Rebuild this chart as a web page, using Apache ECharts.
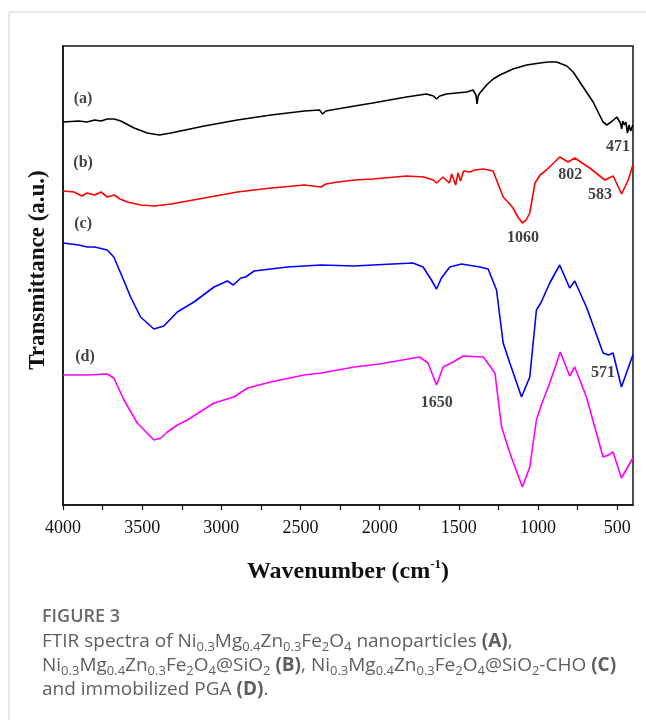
<!DOCTYPE html>
<html>
<head>
<meta charset="utf-8">
<script src="https://cdn.jsdelivr.net/npm/echarts@6/dist/echarts.min.js"></script>
<style>
  body { margin: 0; background: #fff; }
  #main { width: 646px; height: 720px; }
</style>
</head>
<body>
<div id="main"></div>
<script>
// wavenumber (cm-1), transmittance (a.u., offset traces)
let specA = [[4000,383],[3900,384],[3848,383],[3800,385],[3760,384],[3720,386],[3677,386],[3635,384],[3551,377],[3468,372],[3392,370],[3318,372],[3108,379],[2899,385],[2686,390],[2475,394],[2380,395],[2360,391],[2340,394],[2306,395],[2158,399],[2044,402],[1831,408],[1705,411],[1660,409],[1641,406],[1620,409],[1578,411],[1515,412],[1450,413],[1410,415],[1392,410],[1385,401],[1378,409],[1367,412],[1325,420],[1283,426],[1241,430],[1158,436],[1072,440],[987,442],[937,443],[882,443],[818,439],[778,433],[715,418],[652,403],[589,383],[565,380],[530,384],[502,388],[490,386],[480,382],[471,376],[465,384],[455,380],[445,383],[435,372],[425,380],[415,374],[401,380]];
let specB = [[4000,314],[3930,313],[3880,309],[3848,312],[3800,310],[3760,313],[3720,308],[3677,310],[3640,306],[3593,303],[3508,300],[3424,299],[3318,301],[3108,307],[2899,313],[2686,317],[2475,320],[2370,318],[2340,321],[2264,323],[2158,325],[2044,326],[1831,329],[1720,328],[1662,325],[1640,322],[1600,328],[1560,322],[1545,331],[1520,320],[1505,332],[1490,324],[1470,334],[1430,333],[1400,335],[1346,336],[1284,334],[1220,308],[1190,303],[1158,297],[1127,288],[1099,282],[1075,285],[1052,292],[1019,322],[987,330],[947,335],[863,348],[810,343],[768,347],[673,337],[578,325],[525,329],[472,311],[430,325],[401,340]];
let specC = [[4000,262],[3900,260],[3848,258],[3800,258],[3721,255],[3679,248],[3636,232],[3573,208],[3510,188],[3426,176],[3363,179],[3278,193],[3173,203],[3046,218],[2962,224],[2924,220],[2877,227],[2846,228],[2793,234],[2582,238],[2371,240],[2160,239],[2044,240],[1790,242],[1726,238],[1673,225],[1641,216],[1610,227],[1557,238],[1483,241],[1367,238],[1315,236],[1262,215],[1220,162],[1178,142],[1104,108],[1052,128],[1010,195],[979,203],[926,222],[863,240],[800,217],[768,224],[694,198],[589,152],[555,150],[526,152],[473,118],[401,150]];
let specD = [[4000,130],[3850,130],[3721,131],[3679,127],[3615,105],[3531,82],[3426,65],[3382,67],[3341,73],[3278,80],[3215,85],[3046,102],[2920,108],[2835,117],[2688,123],[2477,130],[2371,132],[2160,138],[2002,141],[1748,148],[1695,142],[1641,120],[1599,138],[1536,143],[1473,149],[1346,148],[1272,132],[1230,78],[1178,52],[1099,18],[1052,38],[1010,85],[979,100],[926,122],[859,153],[800,129],[768,138],[694,108],[589,48],[555,50],[526,53],[473,27],[401,47]];

let majorTicks = [4000,3500,3000,2500,2000,1500,1000,500];
let allTicks = [4000,3750,3500,3250,3000,2750,2500,2250,2000,1750,1500,1250,1000,750,500];

// peak / trace labels: [wavenumber, value, text]
let notes = [[3873,406,'(a)'],[3873,342,'(b)'],[3873,281,'(c)'],[3861,148,'(d)'],
             [494,358,'471'],[797,330,'802'],[608,310,'583'],[1095,267,'1060'],
             [589,132,'571'],[1639,102,'1650']];

let serif = '"Liberation Serif", "Times New Roman", serif';
let sans = '"Open Sans", "Noto Sans", sans-serif';

function line(name, data, color) {
    return {
        name: name, type: 'line', data: data, showSymbol: false, smooth: false,
        lineStyle: {color: color, width: 1.6}, itemStyle: {color: color},
        silent: true, z: 3
    };
}

let capRich = {
    n: {fontSize: 19, lineHeight: 24, fill: '#5f5f5f', fontFamily: sans},
    s: {fontSize: 13, lineHeight: 13, fill: '#5f5f5f', fontFamily: sans, verticalAlign: 'bottom'},
    b: {fontSize: 19, lineHeight: 24, fill: '#5f5f5f', fontFamily: sans, fontWeight: 'bold'}
};
let ni = '{n|Ni}{s|0.3}{n|Mg}{s|0.4}{n|Zn}{s|0.3}{n|Fe}{s|2}{n|O}{s|4}';
let captionText = '{n|FTIR spectra of }' + ni + '{n| nanoparticles }{b|(A)}{n|,}\n' +
    ni + '{n|@SiO}{s|2}{n| }{b|(B)}{n|, }' + ni + '{n|@SiO}{s|2}{n|-CHO }{b|(C)}\n' +
    '{n|and immobilized PGA }{b|(D)}{n|.}';

let myChart = echarts.init(document.getElementById('main'));
let option = {
    backgroundColor: '#fff',
    animation: false,
    grid: {left: 63, right: 13, top: 46, bottom: 215, show: true, borderColor: '#111', borderWidth: 1.5},
    xAxis: {
        type: 'value', inverse: true, min: 400, max: 4000,
        axisLine: {show: true, lineStyle: {color: '#111', width: 1.5}},
        axisTick: {show: true, customValues: allTicks, length: 5, lineStyle: {color: '#111', width: 1.2}},
        axisLabel: {
            customValues: majorTicks, color: '#111', fontFamily: serif, fontSize: 18, margin: 14,
            formatter: function (v) { return String(v); }
        },
        splitLine: {show: false}
    },
    yAxis: {
        type: 'value', min: 0, max: 459,
        axisLine: {show: true, lineStyle: {color: '#111', width: 1.5}},
        axisTick: {show: false}, axisLabel: {show: false}, splitLine: {show: false}
    },
    series: [
        line('(a)', specA, '#000000'),
        line('(b)', specB, '#ff0000'),
        line('(c)', specC, '#0000ff'),
        line('(d)', specD, '#ff00ff'),
        {
            type: 'scatter', data: notes, symbolSize: 0, silent: true, z: 5,
            label: {
                show: true, position: 'inside', color: '#111',
                fontFamily: serif, fontWeight: 'bold', fontSize: 16,
                formatter: function (p) { return p.data[2]; }
            }
        }
    ],
    graphic: [
        {type: 'line', shape: {x1: 9, y1: 12, x2: 646, y2: 12}, style: {stroke: '#cfcfcf', lineWidth: 1}},
        {type: 'line', shape: {x1: 9, y1: 12, x2: 9, y2: 720}, style: {stroke: '#cfcfcf', lineWidth: 1}},
        {
            type: 'text', x: 348, y: 572,
            style: {
                text: '{t|Wavenumber (cm}{u|-1}{t|)}',
                align: 'center', verticalAlign: 'middle',
                rich: {
                    t: {fontFamily: serif, fontWeight: 'bold', fontSize: 24, lineHeight: 28, fill: '#111'},
                    u: {fontFamily: serif, fontWeight: 'bold', fontSize: 13, lineHeight: 28, fill: '#111', verticalAlign: 'top', padding: [0, 0, 8, 0]}
                }
            }
        },
        {
            type: 'text', x: 38, y: 270, rotation: Math.PI / 2,
            style: {
                text: 'Transmittance (a.u.)', align: 'center', verticalAlign: 'middle',
                fontFamily: serif, fontWeight: 'bold', fontSize: 23, fill: '#111'
            }
        },
        {
            type: 'text', x: 42, y: 617,
            style: {text: 'FIGURE 3', verticalAlign: 'middle', fontFamily: sans, fontSize: 18, fontWeight: 600, fill: '#6a6a6a'}
        },
        {
            type: 'text', x: 42, y: 630,
            style: {text: captionText, rich: capRich, verticalAlign: 'top'}
        }
    ]
};
myChart.setOption(option);
</script>
</body>
</html>
